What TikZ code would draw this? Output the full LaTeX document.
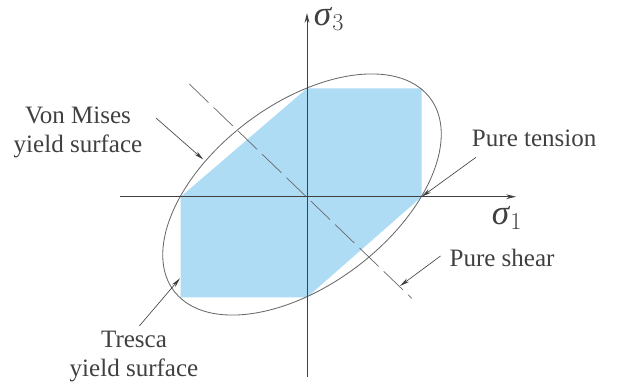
\documentclass[tikz,border=0pt]{standalone}
\usepackage{fontspec}
\setmainfont{Liberation Serif}
\usetikzlibrary{arrows.meta}
\definecolor{hexblue}{RGB}{174,220,245}
\definecolor{inkgray}{RGB}{64,64,64}
\definecolor{linegray}{RGB}{105,105,105}

\begin{document}
\begin{tikzpicture}[x=0.025cm, y=0.025cm,
  lbl/.style={font=\fontsize{17.8}{20.6}\selectfont, text=inkgray,
              inner sep=0pt, align=center},
  sig/.style={font=\fontsize{25}{28}\selectfont, text=inkgray, inner sep=0pt},
  axis/.style={-{Stealth[length=7pt,width=3.4pt]}, line width=0.6pt, inkgray},
  ptr/.style={-{Stealth[length=7pt,width=3pt]}, line width=0.45pt, inkgray},
  ring/.style={line width=0.6pt, linegray},
  centre/.style={line width=0.5pt, linegray, dash pattern={on 19pt off 5pt}},
]
\useasboundingbox (0,0) rectangle (617,383);

% Tresca hexagon
\fill[hexblue] (307,294.7) -- (421.7,294.7) -- (421.7,186.3) -- (307,85.7)
  -- (180.7,85.7) -- (180.7,186.3) -- cycle;

% von Mises ellipse
\begin{scope}[shift={(302,188.5)}, xscale=120.6, yscale=104.4]
  \draw[ring, rotate=45] (0,0) ellipse [x radius=1.4142, y radius=0.8165];
\end{scope}

% axes
\coordinate (o) at (307,186.3);
\coordinate (xl) at (120,186.3);
\coordinate (xr) at (516,186.3);
\coordinate (yb) at (307,6.3);
\coordinate (yt) at (307,370);
\draw[axis] (xl) -- (xr);
\draw[axis] (yb) -- (yt);
\node[sig] (s1) at (507,165) {$\mbox{\textit{σ}}_1$};
\node[sig] (s3) at (329,364) {$\mbox{\textit{σ}}_3$};

% pure shear line
\coordinate (dsA) at (189.3,299);
\coordinate (dsB) at (411.7,84.7);
\draw[centre] (dsA) -- (dsB);

% labels and pointers
\node[lbl] (vm) at (78,250.5) {Von Mises\\yield surface};
\node[lbl, anchor=west] (pt) at (471.7,244.7) {Pure tension};
\node[lbl, anchor=west] (ps) at (449.3,124.7) {Pure shear};
\node[lbl] (tr) at (134,26.3) {Tresca\\yield surface};

\coordinate (vmA) at (156,265);   \coordinate (vmB) at (203.3,223.5);
\coordinate (ptA) at (476,225.7); \coordinate (ptB) at (421.7,186.3);
\coordinate (psA) at (440.5,127); \coordinate (psB) at (400,97);
\coordinate (trA) at (139.3,57);  \coordinate (trB) at (180,104.7);
\draw[ptr] (vmA) -- (vmB);
\draw[ptr] (ptA) -- (ptB);
\draw[ptr] (psA) -- (psB);
\draw[ptr] (trA) -- (trB);
\end{tikzpicture}
\end{document}
